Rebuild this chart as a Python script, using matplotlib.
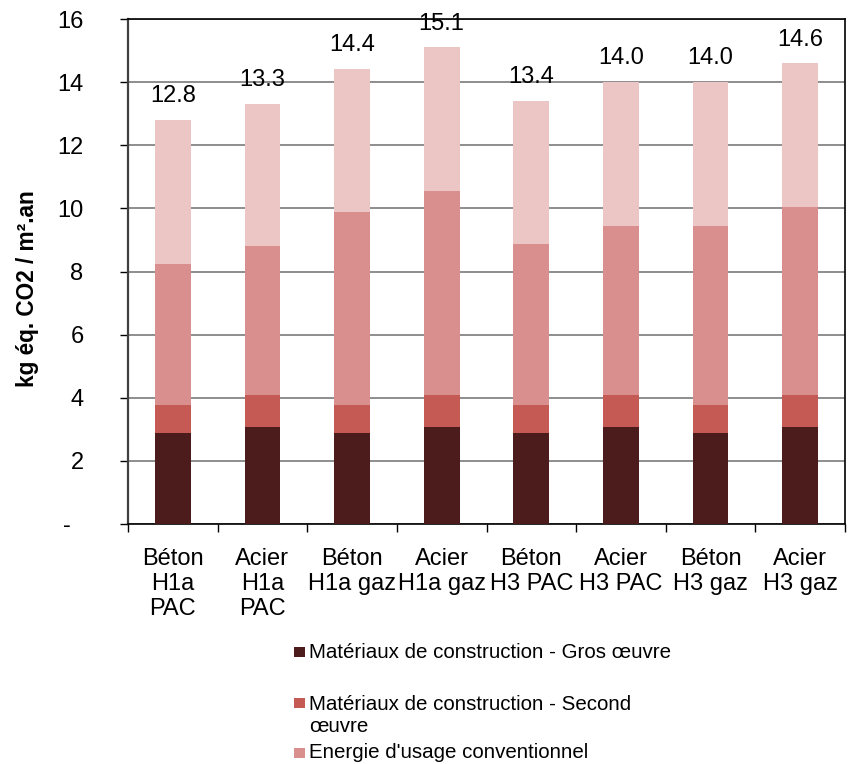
import numpy as np
import matplotlib
matplotlib.use("Agg")
import matplotlib.pyplot as plt
from matplotlib.patches import Rectangle

plt.rcParams['font.family'] = ['Liberation Sans', 'DejaVu Sans']

# Config
categories = ["Béton\nH1a\nPAC", "Acier\nH1a\nPAC", "Béton\nH1a gaz", "Acier\nH1a gaz",
              "Béton\nH3 PAC", "Acier\nH3 PAC", "Béton\nH3 gaz", "Acier\nH3 gaz"]
gros_oeuvre = [2.87, 3.08, 2.87, 3.08, 2.87, 3.08, 2.87, 3.08]
second_oeuvre = [0.91, 1.02, 0.91, 1.02, 0.91, 1.02, 0.91, 1.02]
energie_conv = [4.47, 4.70, 6.12, 6.44, 5.10, 5.35, 5.67, 5.94]
energie_autres = [4.55, 4.52, 4.52, 4.56, 4.52, 4.55, 4.55, 4.56]
series_labels = ["Matériaux de construction - Gros œuvre",
                 "Matériaux de construction - Second\nœuvre",
                 "Energie d'usage conventionnel"]
yticks = [0, 2, 4, 6, 8, 10, 12, 14, 16]
ytick_labels = ["-  ", "2", "4", "6", "8", "10", "12", "14", "16"]

colors = ["#4b1c1b", "#c55a55", "#d98f8d", "#ecc6c5"]

fig = plt.figure(figsize=(8.48, 7.64), dpi=100)
ax = fig.add_axes([128 / 848, 1 - 524 / 764, 717 / 848, 505 / 764])

x = np.arange(len(categories))
stack = [gros_oeuvre, second_oeuvre, energie_conv, energie_autres]
bottom = np.zeros(len(categories))
for vals, c in zip(stack, colors):
    ax.bar(x, vals, width=0.4, bottom=bottom, color=c, zorder=3)
    bottom += np.array(vals)

# totals above the bars
for xi, tot in zip(x, bottom):
    ax.text(xi, tot + 0.4, f"{tot:.1f}", ha='center', va='bottom',
            fontsize=17, zorder=5, clip_on=False)

ax.set_xlim(-0.5, len(categories) - 0.5)
ax.set_ylim(0, 16)
ax.set_yticks(yticks)
ax.set_yticklabels(ytick_labels)
ax.yaxis.grid(True, color='#7a7a7a', linewidth=1.2, zorder=0)
ax.tick_params(axis='y', length=6, width=1, pad=26, labelsize=17)

# category labels centred, tick marks between categories
ax.set_xticks(np.arange(len(categories) + 1) - 0.5)
ax.set_xticklabels([])
ax.set_xticks(x, minor=True)
ax.set_xticklabels(categories, minor=True, fontsize=17, linespacing=1.2)
ax.tick_params(axis='x', which='major', length=6, width=1, direction='out')
ax.tick_params(axis='x', which='minor', length=0, pad=17)

for s in ax.spines.values():
    s.set_linewidth(1.2)
    s.set_color('black')
ax.spines['left'].set_color('#404040')
ax.spines['left'].set_linewidth(1.6)

fig.text(28 / 848, 1 - 289 / 764, "kg éq. CO2 / m².an", rotation=90,
         ha='center', va='center', fontsize=16.3, fontweight='bold')

# legend
leg_y = [652, 715, 753]
mark_y = [652, 703, 753]
for lab, c, ty, my in zip(series_labels, colors, leg_y, mark_y):
    fig.patches.append(Rectangle((294 / 848, 1 - (my + 5) / 764), 11 / 848, 10 / 764,
                                 transform=fig.transFigure, facecolor=c, edgecolor='none'))
    fig.text(309 / 848, 1 - ty / 764, lab, ha='left', va='center',
             fontsize=14.8, linespacing=1.2)

fig.savefig("out.png", dpi=100)
